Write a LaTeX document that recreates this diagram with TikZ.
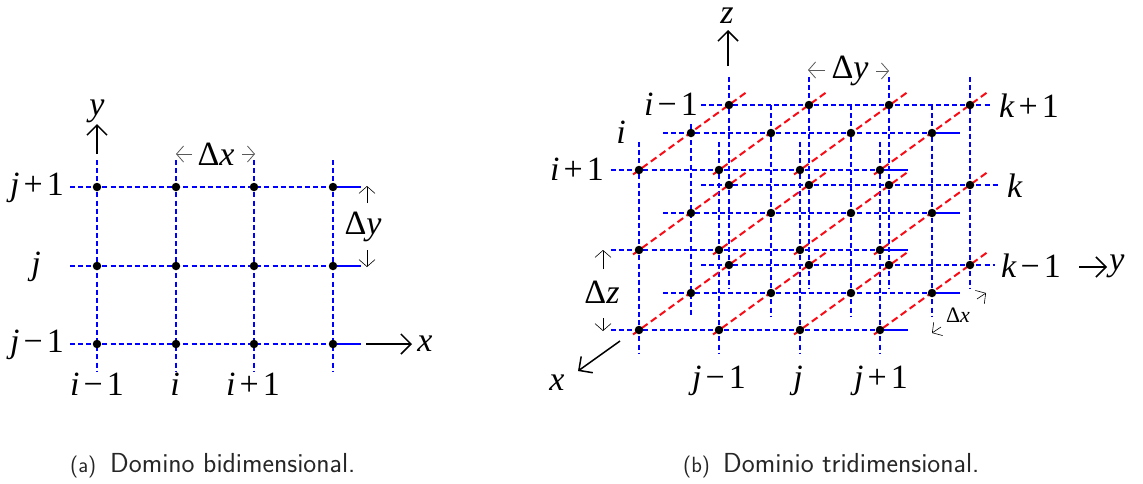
\documentclass[tikz,border=0pt]{standalone}
\usepackage{fontspec}
\setmainfont{Liberation Serif}
\usetikzlibrary{arrows.meta,backgrounds}
\definecolor{gridblue}{RGB}{0,0,255}
\definecolor{gridred}{RGB}{250,10,20}
\newcommand{\vi}{\textit{i}}
\newcommand{\vj}{\textit{j}}
\newcommand{\vk}{\textit{k}}
\newcommand{\pl}{\hspace{4pt}+\hspace{4pt}}
\newcommand{\mi}{\hspace{4pt}\symbol{"2212}\hspace{4pt}}
\newcommand{\Dl}{\symbol{"0394}}
\tikzset{
  x=1pt,y=-1pt,
  dotn/.style={circle,fill=black,inner sep=0pt,minimum size=8.5pt},
  blue line/.style={draw=gridblue,line width=2pt,dash pattern=on 5pt off 3.1pt},
  solid blue/.style={draw=gridblue,line width=2pt},
  red line/.style={draw=gridred,line width=2pt,dash pattern=on 7pt off 4pt},
  axis/.style={draw=black,line width=1.5pt,-{Straight Barb[length=10pt,width=20pt,line width=1.5pt]}},
  dim/.style={draw=black,line width=.6pt,-{Straight Barb[length=7pt,width=16pt,line width=.6pt]}},
  dimg/.style={draw=black!65,line width=.8pt,-{Straight Barb[length=7pt,width=16pt,line width=.8pt]}},
  lab/.style={font=\fontsize{34}{36}\selectfont,anchor=base,inner sep=0pt,text=black},
  slab/.style={font=\fontsize{22}{24}\selectfont,anchor=base,inner sep=0pt,text=black},
  captext/.style={font=\fontsize{27.5}{30}\sffamily\selectfont,anchor=base west,inner sep=0pt,text=black!85},
  capmark/.style={font=\fontsize{22}{30}\sffamily\selectfont,anchor=base west,inner sep=0pt,text=black!85},
}
\begin{document}
\begin{tikzpicture}
\useasboundingbox (0,0) rectangle (1143,483);
% ---------- left grid ----------
\foreach \c/\x in {1/97,2/176,3/254,4/333}{
  \coordinate (Lt\c) at (\x,160);
  \coordinate (Lb\c) at (\x,372);
  \foreach \r/\y in {1/187,2/266,3/344}
    \node[dotn] (L\c\r) at (\x,\y) {};
}
\foreach \r/\y in {1/187,2/266,3/344}{
  \coordinate (Ll\r) at (70,\y);
  \coordinate (Lr\r) at (361,\y);
}
\begin{scope}[on background layer]
  \foreach \c in {1,2,3,4} \draw[blue line] (Lt\c) -- (Lb\c);
  \foreach \r in {1,2,3}{
    \draw[blue line] (Ll\r) -- (L4\r.center);
    \draw[solid blue] (L4\r.center) -- (Lr\r);
  }
\end{scope}
% left axes
\coordinate (Lya) at (97,154); \coordinate (Lyb) at (97,124);
\coordinate (Lxa) at (366,344); \coordinate (Lxb) at (412,344);
\draw[axis] (Lya) -- (Lyb);
\draw[axis] (Lxa) -- (Lxb);
\coordinate (a1) at (192,154); \coordinate (a2) at (176,154);
\coordinate (a3) at (242,154); \coordinate (a4) at (255,154);
\coordinate (a5) at (367,203); \coordinate (a6) at (367,186);
\coordinate (a7) at (367,250); \coordinate (a8) at (367,267);
\draw[dimg] (a1) -- (a2);
\draw[dimg] (a3) -- (a4);
\draw[dim] (a5) -- (a6);
\draw[dim] (a7) -- (a8);
% left labels
\node[lab] (ly) at (97,115) {\textit{y}};
\node[lab] (lx) at (425,351) {\textit{x}};
\node[lab] (ldx) at (216,165) {\Dl\textit{x}};
\node[lab] (ldy) at (363,234) {\Dl\textit{y}};
\node[lab] (lj1) at (37,195) {\vj\pl 1};
\node[lab] (lj2) at (36,274) {\vj};
\node[lab] (lj3) at (37,352) {\vj\mi 1};
\node[lab] (li1) at (97,395) {\vi\mi 1};
\node[lab] (li2) at (175,395) {\vi};
\node[lab] (li3) at (253,395) {\vi\pl 1};
% ---------- right grid ----------
% front layer F (i+1), middle layer M (i), back layer B (i-1)
\foreach \c/\xf/\xm/\xb in {1/639/691/729,2/719/771/809,3/800/851/889,4/880/932/970}{
  \foreach \r/\yf/\ym/\yb in {1/170/133/105,2/250/213/185,3/330/293/265}{
    \node[dotn] (F\c\r) at (\xf,\yf) {};
    \node[dotn] (M\c\r) at (\xm,\ym) {};
    \node[dotn] (B\c\r) at (\xb,\yb) {};
    \coordinate (Fs\c\r) at (\xf-6,\yf+4.5);
    \coordinate (Fe\c\r) at (\xf+107,\yf-77.5);
  }
  \coordinate (Ft\c) at (\xf,142);
  \coordinate (Fb\c) at (\xf,353);
  \coordinate (Mb\c) at (\xm,317);
  \coordinate (Bt\c) at (\xb,77);
  \coordinate (Bb\c) at (\xb,288);
}
\coordinate (Mt1) at (691,124);
\coordinate (Mt2) at (771,105);
\coordinate (Mt3) at (851,105);
\coordinate (Mt4) at (932,105);
\foreach \r/\yf/\ym/\yb/\be in {1/170/133/105/992,2/250/213/185/998,3/330/293/265/995}{
  \coordinate (Fl\r) at (611,\yf);
  \coordinate (Fr\r) at (908,\yf);
  \coordinate (Ml\r) at (663,\ym);
  \coordinate (Mr\r) at (960,\ym);
  \coordinate (Bl\r) at (701,\yb);
  \coordinate (Br\r) at (\be,\yb);
}
\begin{scope}[on background layer]
  \foreach \c in {1,2,3,4}{
    \draw[blue line] (Bt\c) -- (Bb\c);
    \draw[blue line] (Mt\c) -- (Mb\c);
    \draw[blue line] (Ft\c) -- (Fb\c);
  }
  \foreach \r in {1,2,3}{
    \draw[blue line] (Bl\r) -- (Br\r);
    \draw[blue line] (Ml\r) -- (M4\r.center);
    \draw[solid blue] (M4\r.center) -- (Mr\r);
    \draw[blue line] (Fl\r) -- (F4\r.center);
    \draw[solid blue] (F4\r.center) -- (Fr\r);
    \foreach \c in {1,2,3,4}
      \draw[red line] (Fs\c\r) -- (Fe\c\r);
  }
\end{scope}
% right axes
\coordinate (Rza) at (728,66); \coordinate (Rzb) at (728,30);
\coordinate (Rya) at (1079,267); \coordinate (Ryb) at (1107,267);
\coordinate (Rxa) at (620,341); \coordinate (Rxb) at (578,371);
\draw[axis] (Rza) -- (Rzb);
\draw[axis] (Rya) -- (Ryb);
\draw[axis] (Rxa) -- (Rxb);
\coordinate (b1) at (825,70); \coordinate (b2) at (808,70);
\coordinate (b3) at (876,71); \coordinate (b4) at (889,71);
\coordinate (b5) at (603,269); \coordinate (b6) at (603,250);
\coordinate (b7) at (603,318); \coordinate (b8) at (603,331);
\coordinate (b9) at (977,299); \coordinate (b10) at (986,293);
\coordinate (b11) at (941,327); \coordinate (b12) at (932,333);
\draw[dimg] (b1) -- (b2);
\draw[dimg] (b3) -- (b4);
\draw[dim] (b5) -- (b6);
\draw[dim] (b7) -- (b8);
\draw[dim] (b9) -- (b10);
\draw[dim] (b11) -- (b12);
% right labels
\node[lab] (rz) at (727,23) {\textit{z}};
\node[lab] (ry) at (1117,270) {\textit{y}};
\node[lab] (rx) at (557,390) {\textit{x}};
\node[lab] (rdy) at (850,78) {\Dl\textit{y}};
\node[lab] (rdz) at (602,303) {\Dl\textit{z}};
\node[slab] (rdx) at (958,322) {\Dl\textit{x}};
\node[lab] (ri1) at (671,115) {\vi\mi 1};
\node[lab] (ri2) at (621,143) {\vi};
\node[lab] (ri3) at (577,180) {\vi\pl 1};
\node[lab] (rk1) at (1029,117) {\vk\pl 1};
\node[lab] (rk2) at (1015,197) {\vk};
\node[lab] (rk3) at (1031,277) {\vk\mi 1};
\node[lab] (rj1) at (719,388) {\vj\mi 1};
\node[lab] (rj2) at (798,388) {\vj};
\node[lab] (rj3) at (881,388) {\vj\pl 1};
% captions
\node[capmark] (ca) at (70,472) {(a)};
\node[captext] (cat) at (110,472) {Domino bidimensional.};
\node[capmark] (cb) at (683,472) {(b)};
\node[captext] (cbt) at (723,472) {Dominio tridimensional.};
\end{tikzpicture}
\end{document}
